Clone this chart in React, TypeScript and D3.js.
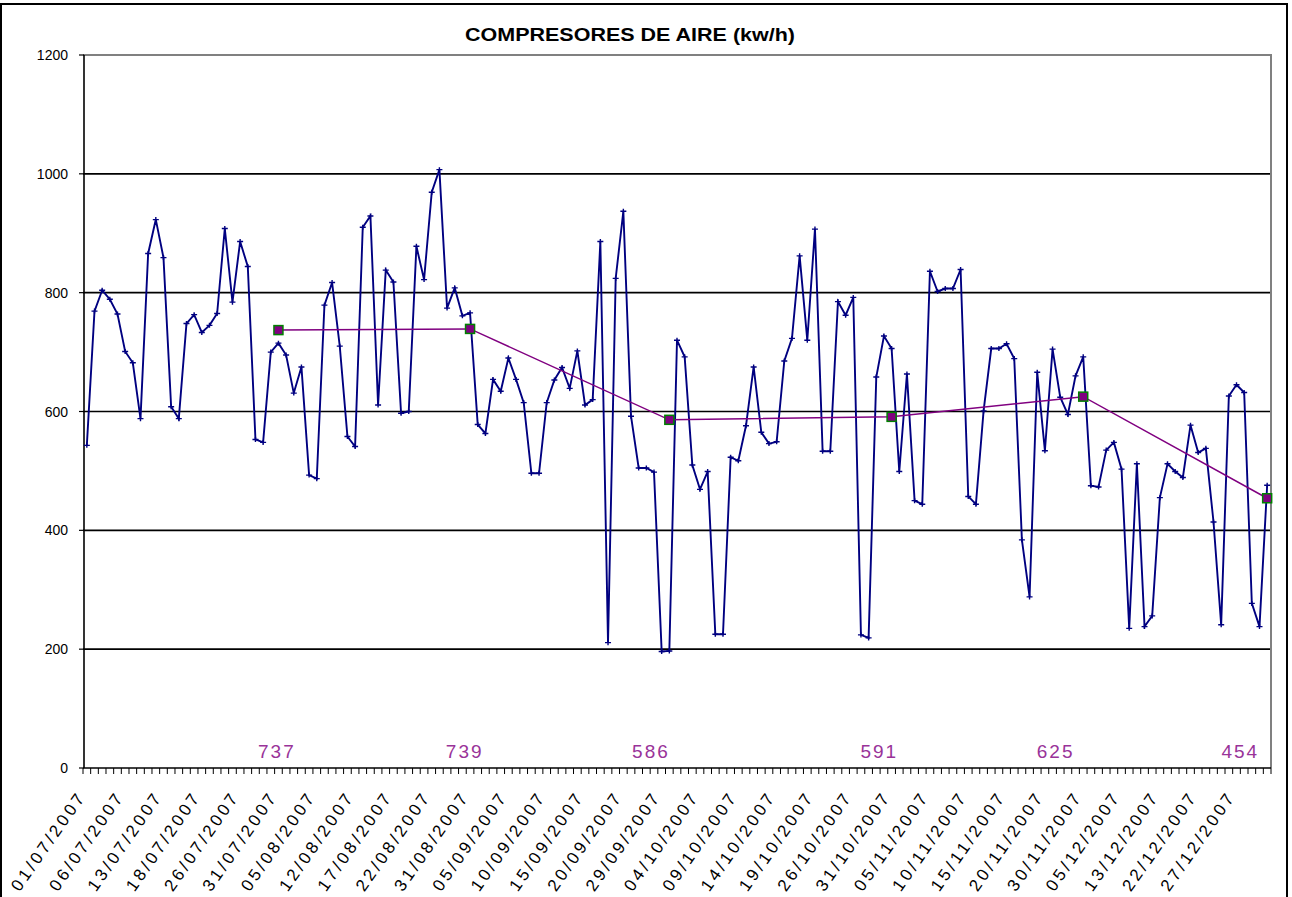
import React, { useEffect, useRef } from 'react';
import * as d3 from 'd3';

// etiquetas del eje X (una cada 5 registros)
const tickLabels = [
  '01/07/2007', '06/07/2007', '13/07/2007', '18/07/2007', '26/07/2007', '31/07/2007',
  '05/08/2007', '12/08/2007', '17/08/2007', '22/08/2007', '31/08/2007', '05/09/2007',
  '10/09/2007', '15/09/2007', '20/09/2007', '29/09/2007', '04/10/2007', '09/10/2007',
  '14/10/2007', '19/10/2007', '26/10/2007', '31/10/2007', '05/11/2007', '10/11/2007',
  '15/11/2007', '20/11/2007', '30/11/2007', '05/12/2007', '13/12/2007', '22/12/2007',
  '27/12/2007',
];
const labelStep = 5;

// consumo diario kw/h
const consumo = [
  543, 769, 804, 789, 764, 701, 682, 588, 866, 923,
  859, 608, 588, 748, 763, 733, 745, 765, 908, 784,
  886, 844, 553, 548, 700, 715, 695, 631, 675, 493,
  487, 779, 817, 710, 558, 541, 910, 929, 611, 838,
  818, 597, 600, 878, 822, 969, 1007, 774, 808, 761,
  766, 578, 563, 654, 634, 690, 654, 615, 496, 496,
  615, 653, 674, 639, 702, 611, 620, 886, 211, 824,
  937, 592, 505, 505, 498, 196, 197, 720, 692, 510,
  469, 499, 225, 225, 523, 517, 576, 675, 565, 546,
  549, 685, 723, 862, 720, 907, 533, 533, 785, 762,
  792, 224, 219, 658, 727, 706, 499, 663, 450, 444,
  836, 802, 807, 807, 839, 457, 444, 601, 706, 706,
  714, 689, 384, 288, 666, 534, 705, 624, 595, 660,
  692, 475, 473, 535, 548, 503, 235, 512, 238, 256,
  455, 512, 499, 489, 577, 531, 538, 414, 241, 626,
  645, 632, 277, 238, 476,
];

// media mensual (fin de mes)
const mediaIdx = [25, 50, 76, 105, 130, 154];
const mediaMes = [737, 739, 586, 591, 625, 454];
const mediaLabelIdx = [24.8, 49.3, 73.6, 103.4, 126.4, 150.5];

const yTicks = [0, 200, 400, 600, 800, 1000, 1200];

const App = () => {
  const chartRef = useRef<SVGSVGElement>(null);

  useEffect(() => {
    const width = 1292;
    const height = 897;
    const margin = { top: 55, right: 21, bottom: 129, left: 83 };
    const n = consumo.length;
    const font = 'Liberation Sans, Arial, sans-serif';

    const svg = d3.select(chartRef.current);
    svg.selectAll('*').remove();
    svg.attr('width', width).attr('height', height);

    const xScale = d3.scaleLinear()
      .domain([-0.5, n - 0.5])
      .range([margin.left, width - margin.right]);

    const yScale = d3.scaleLinear()
      .domain([0, 1200])
      .range([height - margin.bottom, margin.top]);

    const y0 = yScale(0);

    svg.append('rect')
      .attr('x', 0).attr('y', 0).attr('width', width).attr('height', height)
      .attr('fill', '#fff');

    // marco del grafico
    svg.append('rect')
      .attr('x', 1).attr('y', 4)
      .attr('width', 1286).attr('height', 900)
      .attr('fill', 'none').attr('stroke', '#000').attr('stroke-width', 2);

    svg.append('text')
      .attr('x', 630).attr('y', 41)
      .attr('text-anchor', 'middle')
      .attr('font-family', font)
      .attr('font-weight', 'bold')
      .attr('font-size', 19)
      .attr('textLength', 330)
      .attr('lengthAdjust', 'spacingAndGlyphs')
      .text('COMPRESORES DE AIRE (kw/h)');

    // rejilla
    svg.append('g')
      .selectAll('line')
      .data(yTicks.filter(d => d > 0 && d < 1200))
      .enter().append('line')
      .attr('x1', margin.left).attr('x2', width - margin.right)
      .attr('y1', d => yScale(d)).attr('y2', d => yScale(d))
      .attr('stroke', '#000').attr('stroke-width', 1.6);

    // borde del area de trazado
    svg.append('path')
      .attr('d', `M${margin.left},${yScale(1200)}H${width - margin.right}V${y0}`)
      .attr('fill', 'none').attr('stroke', '#808080').attr('stroke-width', 2);

    // eje Y
    const yAxis = svg.append('g');
    yAxis.append('line')
      .attr('x1', margin.left + 1).attr('x2', margin.left + 1)
      .attr('y1', yScale(1200)).attr('y2', y0)
      .attr('stroke', '#000').attr('stroke-width', 1.6);
    yAxis.selectAll('.ytick')
      .data(yTicks)
      .enter().append('line')
      .attr('x1', margin.left - 4).attr('x2', margin.left + 1)
      .attr('y1', d => yScale(d)).attr('y2', d => yScale(d))
      .attr('stroke', '#000').attr('stroke-width', 1.2);
    yAxis.selectAll('text')
      .data(yTicks)
      .enter().append('text')
      .attr('x', 68).attr('y', d => yScale(d) + 5)
      .attr('text-anchor', 'end')
      .attr('font-family', font)
      .attr('font-size', 14)
      .text(d => d);

    // eje X
    const xAxis = svg.append('g');
    xAxis.append('line')
      .attr('x1', margin.left).attr('x2', width - margin.right)
      .attr('y1', y0).attr('y2', y0)
      .attr('stroke', '#000').attr('stroke-width', 1.6);
    xAxis.selectAll('.xtick')
      .data(d3.range(n + 1))
      .enter().append('line')
      .attr('x1', i => xScale(i - 0.5)).attr('x2', i => xScale(i - 0.5))
      .attr('y1', y0).attr('y2', y0 + 6)
      .attr('stroke', '#000').attr('stroke-width', 1);
    xAxis.selectAll('text')
      .data(tickLabels)
      .enter().append('text')
      .attr('transform', (d, k) => `translate(${xScale(k * labelStep) - 2},${y0 + 31}) rotate(-55)`)
      .attr('text-anchor', 'end')
      .attr('font-family', font)
      .attr('font-size', 17)
      .attr('textLength', 114)
      .attr('lengthAdjust', 'spacing')
      .text(d => d);

    // serie consumo
    const line = d3.line<number>()
      .x((d, i) => xScale(i))
      .y(d => yScale(d));

    svg.append('path')
      .datum(consumo)
      .attr('d', line)
      .attr('fill', 'none')
      .attr('stroke', '#000080')
      .attr('stroke-width', 1.9);

    svg.append('g')
      .selectAll('path')
      .data(consumo)
      .enter().append('path')
      .attr('transform', (d, i) => `translate(${xScale(i)},${yScale(d)})`)
      .attr('d', 'M-3,0H3M0,-2.5V2.5')
      .attr('stroke', '#000080')
      .attr('stroke-width', 1.4);

    // serie media mensual
    const media = mediaIdx.map((idx, k) => ({ idx, v: mediaMes[k] }));
    const mediaLine = d3.line<{ idx: number; v: number }>()
      .x(d => xScale(d.idx))
      .y(d => yScale(d.v));

    svg.append('path')
      .datum(media)
      .attr('d', mediaLine)
      .attr('fill', 'none')
      .attr('stroke', '#800080')
      .attr('stroke-width', 1.5);

    svg.append('g')
      .selectAll('rect')
      .data(media)
      .enter().append('rect')
      .attr('x', d => xScale(d.idx) - 4.5)
      .attr('y', d => yScale(d.v) - 4.5)
      .attr('width', 9).attr('height', 9)
      .attr('fill', '#800080')
      .attr('stroke', '#008000')
      .attr('stroke-width', 1.5);

    svg.append('g')
      .selectAll('text')
      .data(mediaMes)
      .enter().append('text')
      .attr('x', (d, k) => xScale(mediaLabelIdx[k]))
      .attr('y', y0 - 10)
      .attr('text-anchor', 'middle')
      .attr('font-family', font)
      .attr('font-size', 19)
      .attr('letter-spacing', 2)
      .attr('fill', '#993399')
      .text(d => d);
  }, []);

  return (
    <div style={{ position: 'absolute', left: 0, top: 0, width: 1292, height: 897 }}>
      <svg ref={chartRef}></svg>
    </div>
  );
};

export default App;
